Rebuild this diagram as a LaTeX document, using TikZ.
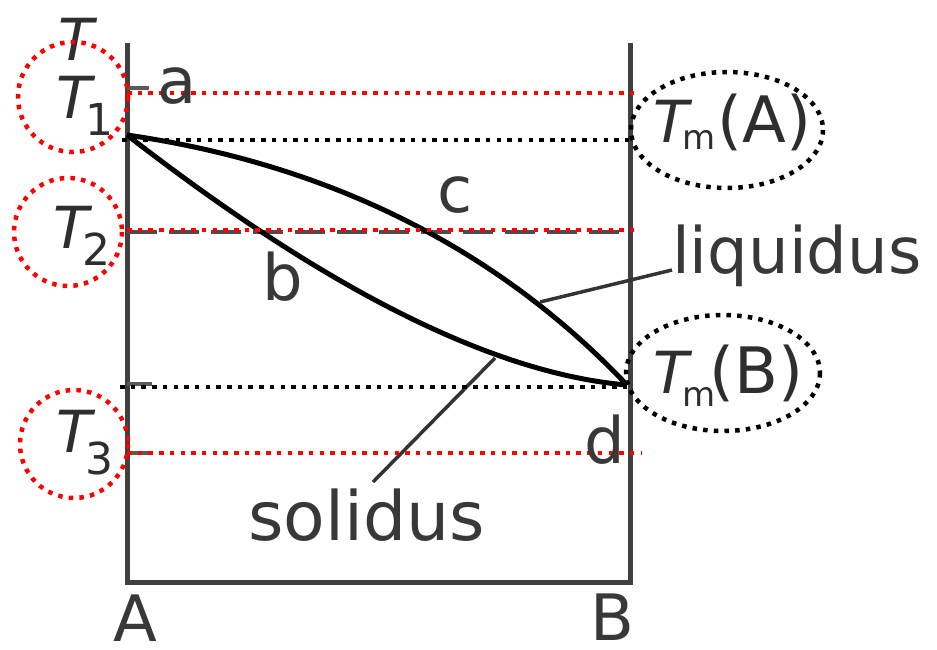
\documentclass[tikz,border=0pt]{standalone}
\usepackage{fontspec}
\setmainfont{DejaVu Sans}
\begin{document}
\begin{tikzpicture}[x=1pt,y=-1pt,
  axis/.style={line width=5pt, draw=black!75, line cap=rect},
  tick/.style={line width=3.5pt, draw=black!65},
  curve/.style={line width=5pt, draw=black},
  leader/.style={line width=3.5pt, draw=black!80},
  rdot/.style={draw=red, line width=4.5pt, dash pattern=on 4.5pt off 6.2pt},
  kdot/.style={draw=black, line width=4.5pt, dash pattern=on 4.5pt off 6.2pt},
  gdash/.style={draw=black!70, line width=4pt, dash pattern=on 30pt off 12pt},
  lab/.style={inner sep=0, font=\fontsize{64}{64}\selectfont, text=black!78},
  tlab/.style={inner sep=0, font=\fontsize{58}{58}\selectfont, text=black!82},
]
\newcommand{\tsub}[3]{{\itshape T}\kern#1pt\raisebox{#2pt}{\fontsize{44}{44}\selectfont #3}}
\useasboundingbox (0,0) rectangle (937,649);

% frame
\coordinate (TL) at (127,45);
\coordinate (BL) at (127,582);
\coordinate (TR) at (630,45);
\coordinate (BR) at (630,582);
\draw[axis] (TL) -- (BL) -- (BR) -- (TR);

% ticks
\coordinate (t1a) at (127,88);  \coordinate (t1b) at (149,88);
\coordinate (t4a) at (127,384); \coordinate (t4b) at (152,384);
\coordinate (t3a) at (127,453); \coordinate (t3b) at (153,453);
\draw[tick] (t1a) -- (t1b);
\draw[tick] (t4a) -- (t4b);
\draw[tick] (t3a) -- (t3b);

% T2 dashed line (original)
\coordinate (g2a) at (127,232); \coordinate (g2b) at (630,232);
\draw[gdash] (g2a) -- (g2b);

% curves
\coordinate (P) at (127,135);
\coordinate (Q) at (627,385);
\draw[curve] (P) .. controls (300,160) and (480,230) .. (Q);
\draw[curve] (P) .. controls (250,230) and (450,370) .. (Q);

% leaders
\coordinate (liqA) at (540,302); \coordinate (liqB) at (672,270);
\coordinate (solA) at (495,358); \coordinate (solB) at (373,482);
\draw[leader] (liqA) -- (liqB);
\draw[leader] (solA) -- (solB);

% dotted lines
\coordinate (r1a) at (127,93);  \coordinate (r1b) at (638,93);
\coordinate (r2a) at (127,230); \coordinate (r2b) at (638,230);
\coordinate (r3a) at (127,453); \coordinate (r3b) at (642,453);
\coordinate (k1a) at (122,140); \coordinate (k1b) at (630,140);
\coordinate (k2a) at (120,387); \coordinate (k2b) at (630,387);
\draw[kdot] (k1a) -- (k1b);
\draw[kdot] (k2a) -- (k2b);
\draw[rdot] (r1a) -- (r1b);
\draw[rdot] (r2a) -- (r2b);
\draw[rdot] (r3a) -- (r3b);

% labels
\node[tlab, anchor=base west] (Ttop) at (58,60) {\itshape T};
\node[tlab, anchor=base west] (T1) at (56,118) {\tsub{-6}{-17}{1}};
\node[tlab, anchor=base west] (T2) at (53,248) {\tsub{-6}{-17}{2}};
\node[tlab, anchor=base west] (T3) at (56,452) {\tsub{-6}{-22}{3}};

\node[lab, anchor=base] (la) at (177,103) {a};
\node[lab, anchor=base] (lb) at (283,300) {b};
\node[lab, anchor=base] (lc) at (455,212) {c};
\node[lab, anchor=base] (ld) at (605,463) {d};
\node[lab, anchor=base] (lA) at (135,641) {A};
\node[lab, anchor=base] (lB) at (612,640) {B};
\node[lab, anchor=base west] (liq) at (672,273) {liquidus};
\node[lab, anchor=base west, font=\fontsize{68}{68}\selectfont] (sol) at (248,540) {solidus};

\node[tlab, anchor=base west] (TmA) at (653,142)
  {{\itshape T}\kern-6pt\raisebox{-7pt}{\fontsize{34}{34}\selectfont m}\kern2pt{\fontsize{64}{64}\selectfont(A)}};
\node[tlab, anchor=base west] (TmB) at (653,393)
  {{\itshape T}\kern-6pt\raisebox{-13pt}{\fontsize{34}{34}\selectfont m}\kern-6pt{\fontsize{64}{64}\selectfont(B)}};

% circles
\draw[rdot] (73,97) circle (55);
\draw[rdot] (68,232) circle (54);
\draw[rdot] (74,444) circle (54);
\draw[kdot] (727,130) ellipse (96 and 58);
\draw[kdot] (723,373) ellipse (97 and 58);
\end{tikzpicture}
\end{document}
